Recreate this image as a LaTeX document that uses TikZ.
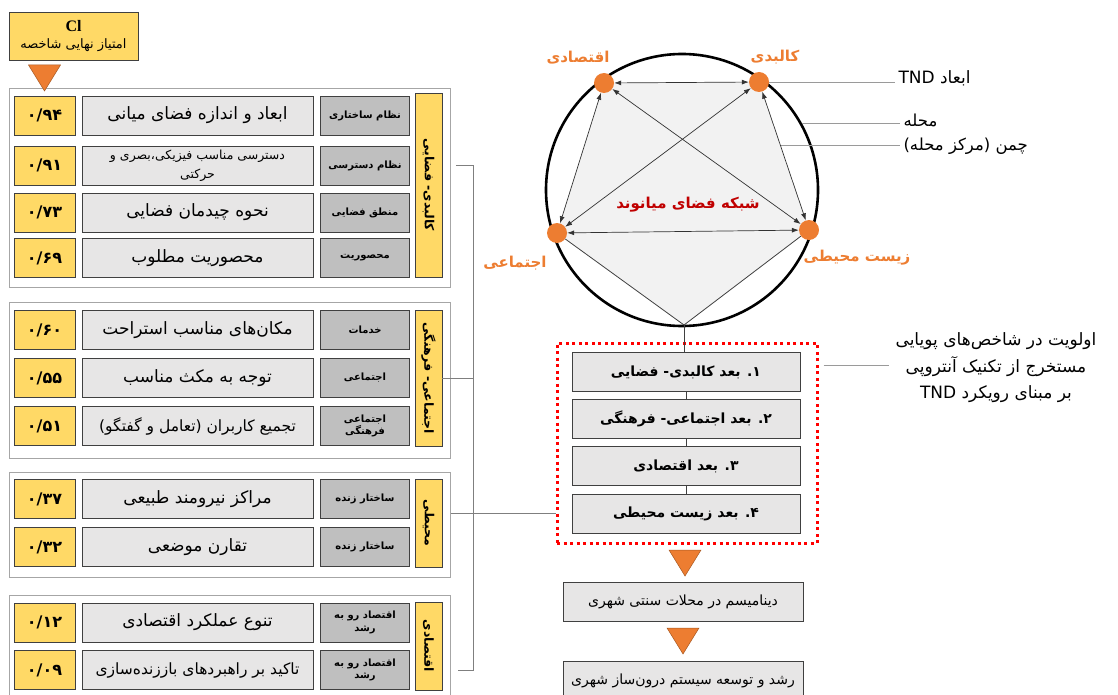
\documentclass[tikz,border=0pt]{standalone}
\usepackage{fontspec}
\usepackage{tikz}
\usetikzlibrary{calc,arrows.meta}
\newfontfamily\farsi[Script=Arabic]{DejaVu Sans}
\newfontfamily\latinserif{Liberation Serif}
\TeXXeTstate=1
\newcommand{\fa}[1]{{\farsi\beginR #1\endR}}
\definecolor{gold}{HTML}{FFD966}
\definecolor{lightbox}{HTML}{E7E6E6}
\definecolor{midbox}{HTML}{BFBFBF}
\definecolor{boxline}{HTML}{404040}
\definecolor{framegray}{HTML}{A6A6A6}
\definecolor{trunkgray}{HTML}{7F7F7F}
\definecolor{leadergray}{HTML}{9A9A9A}
\definecolor{linkgray}{HTML}{333333}
\definecolor{accent}{HTML}{ED7D31}
\definecolor{darkred}{HTML}{C00000}
\definecolor{pentfill}{HTML}{F2F2F2}

\begin{document}
\begin{tikzpicture}[x=1pt,y=-1pt,
    box/.style={draw=boxline, line width=0.9pt, inner sep=2pt},
    scorebox/.style={box, fill=gold, minimum width=61pt, minimum height=39pt, font=\farsi\bfseries\fontsize{16}{18}\selectfont},
    clbox/.style={box, fill=gold, minimum width=129pt, minimum height=48pt, align=center, font=\farsi\fontsize{13}{17}\selectfont},
    textbox/.style={box, fill=lightbox, minimum width=231pt, minimum height=39pt, align=center, font=\farsi\fontsize{17}{19}\selectfont},
    catbox/.style={box, fill=midbox, minimum width=89pt, minimum height=39pt, align=center, font=\farsi\bfseries\fontsize{10}{12.5}\selectfont},
    sidebox/.style={box, fill=gold, rotate=-90, minimum height=27pt, font=\farsi\bfseries\fontsize{12.5}{14}\selectfont},
    groupbox/.style={draw=framegray, line width=0.9pt, fill=white, minimum width=441pt},
    stepbox/.style={box, fill=lightbox, minimum width=228pt, minimum height=39pt, font=\farsi\bfseries\fontsize{14}{16}\selectfont},
    flowbox/.style={box, fill=lightbox, minimum width=240pt, minimum height=39pt, font=\farsi\fontsize{14}{16}\selectfont},
    dot/.style={circle, fill=accent, minimum size=20pt, inner sep=0pt},
    dimlabel/.style={text=accent, font=\farsi\bfseries\fontsize{15}{17}\selectfont},
    link/.style={<->, >={Latex[length=7pt,width=5pt]}, draw=linkgray, line width=0.7pt},
    edge/.style={draw=boxline, line width=0.8pt},
    leader/.style={draw=leadergray, line width=0.9pt},
    trunk/.style={draw=trunkgray, line width=0.9pt},
    tri/.style={fill=accent, draw=accent!70!black, line width=0.5pt}]
  \path[use as bounding box, clip] (0,0) rectangle (1118,695);

  % Final score header
  \node[clbox] (cl) at (73.5,36) {{\latinserif\bfseries\fontsize{16}{17}\selectfont Cl}\\\fa{امتیاز نهایی شاخصه}};

  % Frames of the four dimensions
  \foreach \n/\y/\h in {1/187.5/199, 2/380/156, 3/524.5/105, 4/650/110}
    \node[groupbox, minimum height=\h pt] (g\n) at (230,\y) {};

  % Score rows
  \foreach \n/\y/\s/\t/\c in {
      1/115.5/{۰/۹۴}/{\fa{ابعاد و اندازه فضای میانی}}/{\fa{نظام ساختاری}},
      2/165.5/{۰/۹۱}/{\fa{\fontsize{12.5}{16}\selectfont دسترسی مناسب فیزیکی،بصری و}\\\fa{\fontsize{12.5}{16}\selectfont حرکتی}}/{\fa{نظام دسترسی}},
      3/212.5/{۰/۷۳}/{\fa{نحوه چیدمان فضایی}}/{\fa{منطق فضایی}},
      4/258/{۰/۶۹}/{\fa{محصوریت مطلوب}}/{\fa{محصوریت}},
      5/330/{۰/۶۰}/{\fa{مکان‌های مناسب استراحت}}/{\fa{خدمات}},
      6/378/{۰/۵۵}/{\fa{توجه به مکث مناسب}}/{\fa{اجتماعی}},
      7/426/{۰/۵۱}/{\fa{\fontsize{15.5}{17}\selectfont تجمیع کاربران (تعامل و گفتگو)}}/{\fa{اجتماعی}\\\fa{فرهنگی}},
      8/499/{۰/۳۷}/{\fa{مراکز نیرومند طبیعی}}/{\fa{ساختار زنده}},
      9/547/{۰/۳۲}/{\fa{تقارن موضعی}}/{\fa{ساختار زنده}},
      10/622.5/{۰/۱۲}/{\fa{تنوع عملکرد اقتصادی}}/{\fa{اقتصاد رو به}\\\fa{رشد}},
      11/670/{۰/۰۹}/{\fa{\fontsize{15.5}{17}\selectfont تاکید بر راهبردهای باززنده‌سازی}}/{\fa{اقتصاد رو به}\\\fa{رشد}}}{
    \node[scorebox] (s\n) at (44.5,\y) {\s};
    \node[textbox] (t\n) at (197.5,\y) {\t};
    \node[catbox] (c\n) at (365,\y) {\c};
  }

  % Dimension names
  \foreach \n/\y/\w/\lab in {1/185/184/{کالبدی- فضایی}, 2/378/136/{اجتماعی- فرهنگی},
      3/523/88/{محیطی}, 4/646/88/{اقتصادی}}
    \node[sidebox, minimum width=\w pt] (v\n) at (428.5,\y) {\fa{\lab}};

  % Links to the priority list
  \coordinate (j1) at (473,165);
  \coordinate (j4) at (473,670);
  \draw[trunk] ([xshift=5pt]g1.east |- j1) -- (j1) -- (j4) -- ([xshift=7pt]g4.east |- j4);
  \draw[trunk] (v2.north) -- (v2.north -| j1);

  % Network of the TND dimensions
  \coordinate (pE) at (604,83);
  \coordinate (pP) at (759,82);
  \coordinate (pV) at (809,230);
  \coordinate (pB) at (684,325);
  \coordinate (pS) at (557,233);
  \fill[pentfill] (pE) -- (pP) -- (pV) -- (pB) -- (pS) -- cycle;
  \node[draw, circle, line width=2.6pt, minimum size=272pt, inner sep=0pt] (ring) at (682,190) {};
  \node[dot] (econ) at (pE) {};
  \node[dot] (phys) at (pP) {};
  \node[dot] (env) at (pV) {};
  \node[dot] (soc) at (pS) {};
  \foreach \a/\b in {econ/phys, econ/soc, phys/env, phys/soc, econ/env, soc/env}
    \draw[link] (\a) -- (\b);
  \draw[edge] (soc) -- (pB) -- (env);

  \node[dimlabel] (lEcon) at (578,58) {\fa{اقتصادی}};
  \node[dimlabel] (lPhys) at (775,57) {\fa{کالبدی}};
  \node[dimlabel] (lSoc) at (515,263) {\fa{اجتماعی}};
  \node[dimlabel] (lEnv) at (857,258) {\fa{زیست محیطی}};
  \node[text=darkred, font=\farsi\bfseries\fontsize{15}{17}\selectfont] (net) at (688,205) {\fa{شبکه فضای میانوند}};

  % Callouts
  \node[anchor=west, font=\farsi\fontsize{17}{19}\selectfont] (lblTnd) at (895,78) {\fa{ابعاد TND}};
  \node[anchor=west, font=\farsi\fontsize{16.5}{18}\selectfont] (lblMah) at (900,120) {\fa{محله}};
  \node[anchor=west, font=\farsi\fontsize{16.5}{18}\selectfont] (lblCham) at (900,146) {\fa{چمن (مرکز محله)}};
  \coordinate (cham) at ($(pP)!0.43!(pV)$);
  \draw[leader] (phys) -- (phys -| lblTnd.west);
  \draw[leader] (ring.29) -- (ring.29 -| lblMah.west);
  \draw[leader] (cham) -- (cham -| lblCham.west);

  % Priority of the dimensions
  \node[draw=red, line width=3pt, dash pattern=on 3pt off 3.5pt, minimum width=260pt, minimum height=200pt] (prio) at (687,443) {};
  \foreach \n/\y/\t in {1/372/{۱. بعد کالبدی- فضایی}, 2/418.5/{۲. بعد اجتماعی- فرهنگی},
      3/466/{۳. بعد اقتصادی}, 4/513.5/{۴. بعد زیست محیطی}}
    \node[stepbox] (d\n) at (686,\y) {\fa{\t}};
  \draw[edge] (pB) -- (pB |- d1.north);
  \foreach \a/\b in {d1/d2, d2/d3, d3/d4}
    \draw[edge] (\a) -- (\b);
  \draw[trunk] (g3.east |- d4) -- (prio.west |- d4);

  \node[align=center, font=\farsi\fontsize{17}{26.5}\selectfont] (note) at (996,368) {\fa{اولویت در شاخص‌های پویایی}\\\fa{مستخرج از تکنیک آنتروپی}\\\fa{بر مبنای رویکرد TND}};
  \draw[leader] ([xshift=5pt]prio.east |- 0,365) -- ([xshift=-3pt]note.west |- 0,365);

  % Outcome
  \node[flowbox] (b1) at (683,601.5) {\fa{دینامیسم در محلات سنتی شهری}};
  \node[flowbox] (b2) at (683,680.5) {\fa{رشد و توسعه سیستم درون‌ساز شهری}};
  \foreach \a/\b in {{s1 |- cl.south}/s1.north, prio.south/b1.north, b1.south/b2.north}
    \filldraw[tri] ($(\a)!0.5!(\b)$) ++(-16,-13) -- ++(32,0) -- ++(-16,26) -- cycle;
\end{tikzpicture}
\end{document}
